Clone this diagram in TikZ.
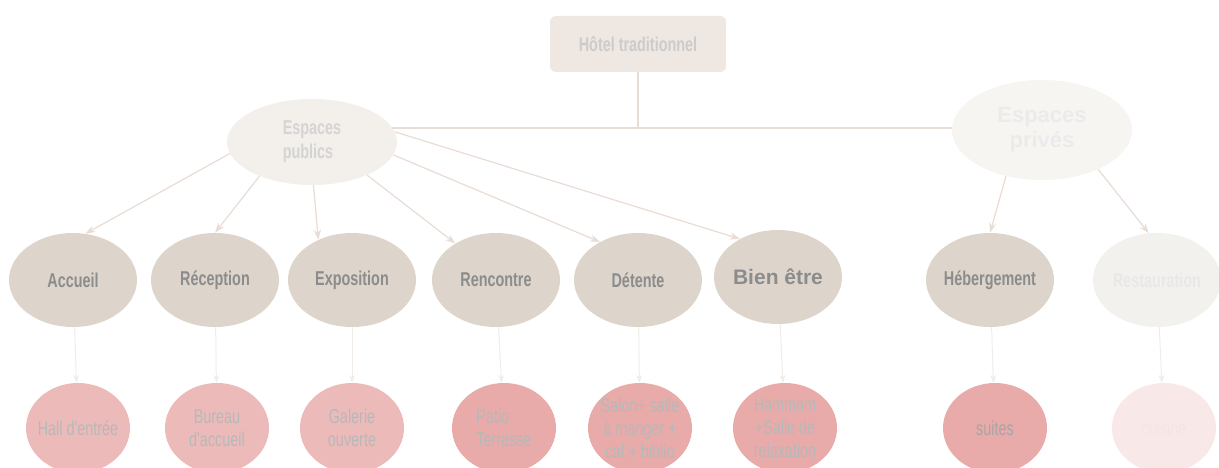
\documentclass[tikz,border=0pt]{standalone}
\usepackage{fontspec}
\usepackage{tikz}
\usetikzlibrary{shapes.geometric,positioning,arrows,arrows.meta}
\usepackage{xcolor}
\setmainfont{Liberation Sans}
\newfontfamily\agency[FakeStretch=0.72]{Liberation Sans}
\definecolor{hotelfill}{HTML}{EFE7E2}
\definecolor{pubfill}{HTML}{F3EFEA}
\definecolor{privfill}{HTML}{F7F5F2}
\definecolor{zonefill}{HTML}{DDD5CB}
\definecolor{zonelight}{HTML}{F3F1EE}
\definecolor{roomfill}{HTML}{EDBABA}
\definecolor{roomdark}{HTML}{E9AAAA}
\definecolor{roomlight}{HTML}{F8E8E8}
\definecolor{roomtext}{HTML}{B5B9B9}
\definecolor{linkcol}{HTML}{E8DCD4}
\definecolor{faintcol}{HTML}{F2ECE8}
\tikzstyle{hotel} = [rectangle, fill=hotelfill, rounded corners=6pt, minimum width=176pt, minimum height=56pt, text=black!20, font=\agency\bfseries\fontsize{20}{23}\selectfont]
\tikzstyle{espace} = [ellipse, fill=pubfill, inner sep=0pt, minimum width=170pt, minimum height=86pt, align=left, text=black!17, font=\agency\bfseries\fontsize{20}{24}\selectfont]
\tikzstyle{zone} = [ellipse, fill=zonefill, inner sep=-4pt, minimum width=128pt, minimum height=94pt, text=black!45, font=\agency\bfseries\fontsize{20}{23}\selectfont]
\tikzstyle{room} = [ellipse, fill=roomfill, inner sep=-6pt, minimum width=104pt, minimum height=90pt, align=center, text=roomtext, font=\agency\fontsize{20}{23}\selectfont]
\tikzstyle{tree} = [draw, line width=2pt, color=linkcol]
\tikzstyle{line} = [draw, line width=1.2pt, color=linkcol, -{Stealth[length=10pt,width=7pt]}]
\tikzstyle{faint} = [draw, line width=1pt, color=faintcol, -{Stealth[length=8pt,width=6pt]}]
\begin{document}
\begin{tikzpicture}[x=1pt, y=-1pt]
	\clip (0,0) rectangle (1219,468);
	\useasboundingbox (0,0) rectangle (1219,468);
	%% hotel
	\node[hotel] (hotel) at (638,44) {Hôtel traditionnel};
	%% espaces
	\node[espace] (pub) at (312,142) {Espaces\\publics};
	\node[espace, fill=privfill, minimum width=180pt, minimum height=100pt, align=center, text=black!8, font=\bfseries\fontsize{22}{25}\selectfont] (priv) at (1042,130) {Espaces\\privés};
	%% zones
	\node[zone] (acc) at (73,280) {Accueil};
	\node[zone, right of=acc, node distance=142pt] (rec) {Réception};
	\node[zone, right of=rec, node distance=137pt] (expo) {Exposition};
	\node[zone, right of=expo, node distance=144pt] (renc) {Rencontre};
	\node[zone, right of=renc, node distance=142pt] (det) {Détente};
	\node[zone, right of=det, node distance=140pt, yshift=3pt, font=\bfseries\fontsize{21}{24}\selectfont] (bien) {Bien être};
	\node[zone, right of=bien, node distance=212pt, yshift=-3pt] (heb) {Hébergement};
	\node[zone, right of=heb, node distance=167pt, fill=zonelight, text=black!9] (rest) {Restauration};
	%% rooms
	\node[room, below of=acc, node distance=148pt, xshift=5pt] (hall) {Hall d'entrée};
	\node[room, below of=rec, node distance=148pt, xshift=2pt] (bur) {Bureau\\d'accueil};
	\node[room, below of=expo, node distance=148pt] (gal) {Galerie\\ouverte};
	\node[room, below of=renc, node distance=148pt, xshift=8pt, fill=roomdark, align=left] (patio) {Patio\\Terrasse};
	\node[room, below of=det, node distance=148pt, xshift=2pt, fill=roomdark] (salon) {Salon+ salle\\à manger +\\caf.+ biblio};
	\node[room, below of=bien, node distance=151pt, xshift=7pt, fill=roomdark] (ham) {Hammam\\+Salle de\\relaxation};
	\node[room, below of=heb, node distance=148pt, xshift=5pt, fill=roomdark, text=black!35] (suit) {suites};
	\node[room, below of=rest, node distance=148pt, xshift=7pt, fill=roomlight, text=roomfill!40] (cuis) {cuisine};
	%% edges
	\path[tree] (pub.10) -- (pub.10 -| priv.west);
	\path[tree] (hotel.south) -- (hotel.south |- pub.10);
	\path[line] (pub.188) -- (acc.75);
	\path[line] (pub.213) -- (rec.90);
	\path[line] (pub.272) -- (expo.130);
	\path[line] (pub.329) -- (renc.138);
	\path[line] (pub.351) -- (det.135);
	\path[line] (pub.7) -- (bien.135);
	\path[line] (priv.232) -- (heb.90);
	\path[line] (priv.325) -- (rest.100);
	\path[faint] (acc) -- (hall);
	\path[faint] (rec) -- (bur);
	\path[faint] (expo) -- (gal);
	\path[faint] (renc) -- (patio);
	\path[faint] (det) -- (salon);
	\path[faint] (bien) -- (ham);
	\path[faint] (heb) -- (suit);
	\path[faint] (rest) -- (cuis);
\end{tikzpicture}
\end{document}
